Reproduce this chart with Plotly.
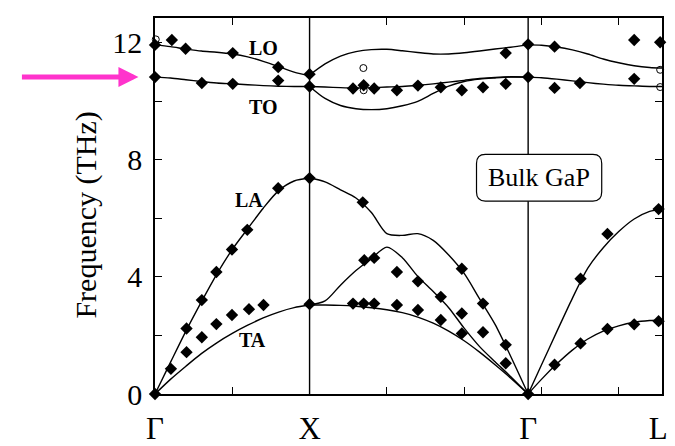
import plotly.graph_objects as go

# ---- symmetry points / ticks ----
SYM_K = [0.0, 1.0, 2.414, 3.28]
SYM_LABELS = ["Γ", "X", "Γ", "L\u00a0"]
MINOR_K = [0.5, 1.0, 1.5, 2.0, 2.5, 3.0]
Y_TICKS = [0, 2, 4, 6, 8, 10, 12]
Y_TICK_TEXT = ["0", "", "4", "", "8", "", "12"]

# ---- calculated dispersion: Gamma -> X ----
K_GX = [0.0, 0.1, 0.2, 0.3, 0.4, 0.5, 0.6, 0.7, 0.8, 0.9, 1.0]
GX_LO = [11.93, 11.87, 11.79, 11.72, 11.68, 11.62, 11.52, 11.37, 11.19, 11.0, 10.88]
GX_TO = [10.83, 10.8, 10.74, 10.68, 10.63, 10.6, 10.57, 10.54, 10.52, 10.51, 10.51]
GX_LA = [0.0, 1.08, 2.15, 3.15, 4.1, 4.94, 5.65, 6.35, 6.95, 7.28, 7.38]
GX_TA = [0.0, 0.5, 0.95, 1.38, 1.75, 2.07, 2.35, 2.6, 2.8, 2.95, 3.04]

# ---- X -> Gamma ----
K_XG = [1.0, 1.1, 1.2, 1.3, 1.4, 1.5, 1.6, 1.7, 1.8, 1.9, 2.0, 2.1, 2.2, 2.3, 2.414]
XG_LO = [10.9, 11.28, 11.55, 11.7, 11.77, 11.78, 11.73, 11.67, 11.62, 11.62, 11.66, 11.72, 11.79, 11.85, 11.93]
XG_TO1 = [10.51, 10.49, 10.47, 10.46, 10.47, 10.49, 10.51, 10.55, 10.6, 10.66, 10.72, 10.78, 10.82, 10.84, 10.83]
XG_TO2 = [10.51, 10.1, 9.86, 9.75, 9.72, 9.75, 9.85, 10.0, 10.27, 10.52, 10.68, 10.76, 10.8, 10.83, 10.83]
XG_LA = [7.38, 7.25, 6.98, 6.7, 6.2, 5.48, 5.42, 5.48, 5.25, 4.75, 4.12, 3.25, 2.38, 1.3, 0.0]
XG_TA2 = [3.04, 3.18, 3.72, 4.22, 4.63, 5.02, 4.66, 4.02, 3.5, 2.95, 2.25, 1.62, 1.1, 0.6, 0.0]
XG_TA1 = [3.04, 3.04, 3.03, 3.0, 2.95, 2.88, 2.78, 2.63, 2.42, 2.15, 1.82, 1.43, 1.0, 0.55, 0.0]

# ---- Gamma -> L ----
K_GL = [2.414, 2.5, 2.6, 2.7, 2.8, 2.9, 3.0, 3.1, 3.2, 3.28]
GL_LO = [11.93, 11.92, 11.86, 11.76, 11.62, 11.45, 11.32, 11.22, 11.16, 11.14]
GL_TO = [10.83, 10.81, 10.76, 10.7, 10.64, 10.59, 10.55, 10.53, 10.51, 10.51]
GL_LA = [0.0, 0.99, 2.14, 3.27, 4.3, 5.0, 5.55, 5.98, 6.24, 6.32]
GL_TA = [0.0, 0.5, 1.03, 1.5, 1.88, 2.15, 2.33, 2.45, 2.51, 2.53]

# ---- experimental points (filled diamonds) ----
EXP_K = [0.0, 0.109, 0.198, 0.503, 0.797, 1.0, 0.0, 0.303, 0.503, 0.797, 1.0,
         0.0, 0.103, 0.204, 0.303, 0.397, 0.498, 0.597, 0.797, 1.0,
         0.204, 0.303, 0.397, 0.498, 0.608, 0.702, 1.0,
         1.344, 1.354, 1.418, 1.565, 1.701, 1.849, 1.985, 1.985, 1.985, 2.122, 2.122, 2.269, 2.269,
         1.281, 1.35, 1.418, 1.565, 1.701, 1.849,
         1.281, 1.35, 1.418, 1.565, 1.701, 1.849, 1.985, 2.122, 2.269, 2.269,
         2.414, 2.414, 2.414, 2.585, 2.585, 2.749, 3.1, 3.1, 3.268,
         2.585, 2.753, 2.927, 3.1, 3.258, 2.753, 2.927, 3.258]
EXP_F = [11.93, 12.1, 11.8, 11.65, 11.17, 10.93, 10.83, 10.63, 10.6, 10.71, 10.51,
         0.0, 0.86, 2.24, 3.21, 4.17, 4.94, 5.61, 7.03, 7.38,
         1.43, 1.94, 2.39, 2.7, 2.9, 3.04, 3.07,
         6.55, 4.57, 4.65, 4.17, 3.85, 3.32, 4.28, 2.75, 2.07, 3.09, 2.11, 1.68, 1.05,
         3.09, 3.09, 3.09, 3.04, 2.87, 2.53,
         10.44, 10.55, 10.44, 10.38, 10.54, 10.48, 10.38, 10.48, 10.6, 11.65,
         11.95, 10.83, 0.0, 11.87, 10.46, 10.63, 12.1, 10.77, 12.02,
         1.0, 1.73, 2.22, 2.38, 2.49, 3.94, 5.47, 6.32]

# ---- experimental points (open circles) ----
OPEN_K = [0.005, 1.348, 1.35, 3.268, 3.268]
OPEN_F = [12.12, 11.14, 10.38, 11.08, 10.49]

BRANCH_NAMES = ["LO", "TO", "LA", "TA"]

FONT = "Liberation Serif, Times New Roman, serif"

fig = go.Figure()

segments = [
    (K_GX, [GX_LO, GX_TO, GX_LA, GX_TA]),
    (K_XG, [XG_LO, XG_TO1, XG_TO2, XG_LA, XG_TA2, XG_TA1]),
    (K_GL, [GL_LO, GL_TO, GL_LA, GL_TA]),
]
for ks, branches in segments:
    for br in branches:
        fig.add_trace(go.Scatter(
            x=ks, y=br, mode="lines",
            line=dict(color="black", width=1.4, shape="spline", smoothing=0.8),
            hoverinfo="skip", showlegend=False))

fig.add_trace(go.Scatter(
    x=EXP_K, y=EXP_F, mode="markers",
    marker=dict(symbol="diamond", size=9.5, color="black", line=dict(width=0)),
    cliponaxis=False, showlegend=False))
fig.add_trace(go.Scatter(
    x=OPEN_K, y=OPEN_F, mode="markers",
    marker=dict(symbol="circle-open", size=7, color="black", line=dict(width=1)),
    cliponaxis=False, showlegend=False))

# vertical lines at interior symmetry points
shapes = []
for k in SYM_K[1:3]:
    shapes.append(dict(type="line", xref="x", yref="paper", x0=k, x1=k, y0=0, y1=1,
                       line=dict(color="black", width=1.4), layer="below"))

# rounded box for "Bulk GaP"
x0, x1, y0, y1 = 2.08, 2.89, 6.59, 8.19
rx, ry = 0.057, 0.31
path = (f"M {x0+rx},{y0} L {x1-rx},{y0} Q {x1},{y0} {x1},{y0+ry} "
        f"L {x1},{y1-ry} Q {x1},{y1} {x1-rx},{y1} L {x0+rx},{y1} "
        f"Q {x0},{y1} {x0},{y1-ry} L {x0},{y0+ry} Q {x0},{y0} {x0+rx},{y0} Z")
shapes.append(dict(type="path", xref="x", yref="y", path=path,
                   fillcolor="white", line=dict(color="black", width=1.2), layer="above"))

annotations = []
label_pos = [(0.702, 11.82), (0.702, 9.81), (0.608, 6.64), (0.629, 1.85)]
for name, (lx, ly) in zip(BRANCH_NAMES, label_pos):
    annotations.append(dict(x=lx, y=ly, xref="x", yref="y", text=f"<b>{name}</b>",
                            showarrow=False, font=dict(family=FONT, size=20, color="black")))
annotations.append(dict(x=(x0 + x1) / 2, y=(y0 + y1) / 2, xref="x", yref="y", text="Bulk GaP",
                        showarrow=False, font=dict(family=FONT, size=26, color="black")))
annotations.append(dict(x=-0.137, y=0.476, xref="paper", yref="paper", text="Frequency (THz)",
                        xanchor="center", yanchor="middle",
                        textangle=-90, showarrow=False,
                        font=dict(family=FONT, size=30, color="black")))
annotations.append(dict(x=-0.0327, y=GX_TO[0], xref="paper", yref="y", text="",
                        showarrow=True, ax=-118, ay=0, arrowhead=2, arrowsize=0.8,
                        arrowwidth=5, arrowcolor="#FF33CC", standoff=0))

fig.update_layout(
    width=675, height=446,
    margin=dict(l=147, r=8, t=8, b=60),
    paper_bgcolor="white", plot_bgcolor="white",
    shapes=shapes, annotations=annotations,
    font=dict(family=FONT, color="black"),
)
fig.update_xaxes(
    range=[0, 3.28], tickmode="array", tickvals=SYM_K, ticktext=SYM_LABELS,
    ticks="", showgrid=False, zeroline=False,
    showline=True, linecolor="black", linewidth=1.5, mirror="ticks",
    ticklabelstandoff=6, ticklabeloverflow="allow",
    tickfont=dict(family=FONT, size=31, color="black"),
    minor=dict(tickmode="array", tickvals=MINOR_K, ticks="inside", ticklen=7,
               tickcolor="black", tickwidth=1, showgrid=False),
)
fig.update_yaxes(
    range=[0, 12.85], tickmode="array", tickvals=Y_TICKS, ticktext=Y_TICK_TEXT,
    ticks="inside", ticklen=7, tickcolor="black", tickwidth=1,
    showgrid=False, zeroline=False,
    showline=True, linecolor="black", linewidth=1.5, mirror="ticks",
    ticklabelstandoff=5,
    tickfont=dict(family=FONT, size=30, color="black"),
)

fig.write_html("out.html")
